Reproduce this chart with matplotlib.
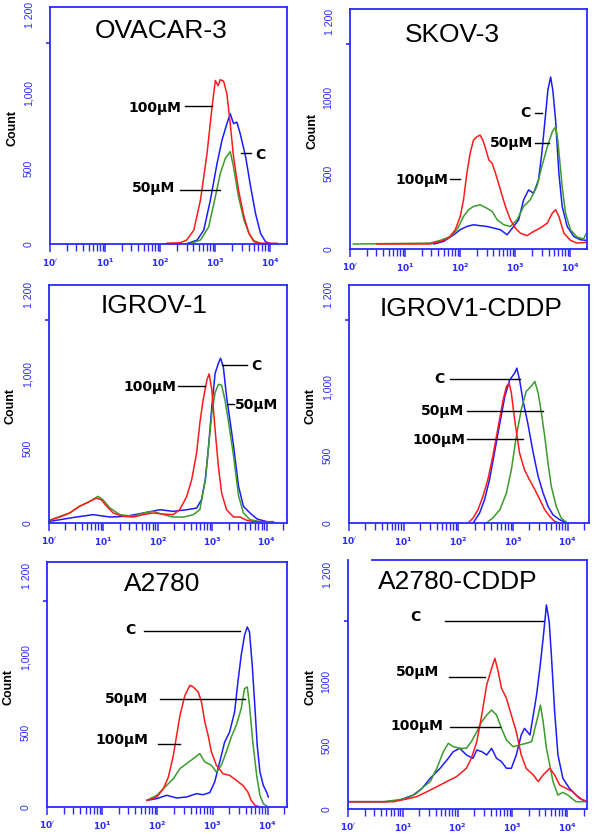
import matplotlib
matplotlib.use('Agg')
import numpy as np
import matplotlib.pyplot as plt
from matplotlib.ticker import FixedLocator, FixedFormatter, NullFormatter

plt.rcParams['font.family'] = ['Liberation Sans', 'DejaVu Sans']

# colours of the three treatments
RED = '#ff1a1a'     # 100µM
GREEN = '#3b9b2b'   # 50µM
BLUE = '#1c1cff'    # control (C)
AXIS = '#2a2aff'

titles = ['OVACAR-3', 'SKOV-3', 'IGROV-1', 'IGROV1-CDDP', 'A2780', 'A2780-CDDP']
ytick_text = [['0', '500', '1,000'], ['0', '500', '1000'], ['0', '500', '1,000'],
              ['0', '500', '1,000'], ['0', '500', '1,000'], ['0', '500', '1000']]
xtick_text = [r'$\mathbf{10^{\prime}}$', r'$\mathbf{10^{1}}$', r'$\mathbf{10^{2}}$',
              r'$\mathbf{10^{3}}$', r'$\mathbf{10^{4}}$']

# ---- OVACAR-3 (x = log10 fluorescence, y = count)
ovacar_red_x = [2.12, 2.36, 2.48, 2.61, 2.73, 2.85, 2.94, 3.00, 3.05, 3.09, 3.15, 3.21, 3.27, 3.33, 3.42, 3.52, 3.61, 3.70, 3.82, 4.12]
ovacar_red_y = [5, 8, 26, 92, 290, 600, 905, 1080, 1045, 1085, 1075, 990, 795, 575, 356, 180, 70, 15, 5, 5]
ovacar_green_x = [2.55, 2.73, 2.88, 3.00, 3.09, 3.18, 3.27, 3.33, 3.42, 3.52, 3.61, 3.70, 3.82]
ovacar_green_y = [4, 26, 114, 312, 466, 565, 610, 510, 312, 158, 70, 22, 4]
ovacar_blue_x = [2.48, 2.67, 2.79, 2.91, 3.03, 3.12, 3.21, 3.27, 3.33, 3.39, 3.45, 3.55, 3.64, 3.73, 3.82, 3.91, 4.00]
ovacar_blue_y = [2, 26, 92, 290, 530, 685, 795, 860, 795, 805, 730, 575, 378, 200, 70, 15, 2]

# ---- SKOV-3
skov_red_x = [0.48, 1.45, 1.64, 1.79, 1.91, 2.00, 2.06, 2.12, 2.18, 2.24, 2.30, 2.36, 2.41, 2.45, 2.52, 2.58, 2.64, 2.73, 2.82, 2.91, 3.00, 3.09, 3.21, 3.33, 3.45, 3.58, 3.67, 3.73, 3.79, 3.88, 4.00, 4.12, 4.29]
skov_red_y = [33, 33, 50, 72, 127, 215, 325, 500, 632, 719, 741, 752, 719, 675, 588, 566, 500, 390, 281, 193, 138, 105, 88, 116, 138, 171, 237, 259, 215, 105, 57, 39, 44]
skov_green_x = [0.06, 1.45, 1.64, 1.82, 1.94, 2.06, 2.15, 2.24, 2.36, 2.48, 2.58, 2.67, 2.79, 2.91, 3.03, 3.15, 3.27, 3.39, 3.48, 3.58, 3.67, 3.73, 3.77, 3.85, 3.91, 4.00, 4.12, 4.24, 4.29]
skov_green_y = [33, 39, 57, 83, 127, 215, 259, 281, 292, 270, 248, 193, 160, 149, 193, 281, 325, 412, 544, 675, 774, 807, 719, 412, 237, 127, 79, 66, 105]
skov_blue_x = [1.52, 1.70, 1.88, 2.00, 2.12, 2.24, 2.36, 2.48, 2.61, 2.73, 2.85, 2.97, 3.06, 3.15, 3.24, 3.33, 3.42, 3.48, 3.55, 3.59, 3.64, 3.68, 3.73, 3.79, 3.85, 3.94, 4.06, 4.18, 4.29]
skov_blue_y = [33, 50, 94, 127, 149, 160, 154, 149, 138, 127, 94, 149, 193, 325, 390, 368, 456, 632, 895, 1048, 1136, 1048, 851, 500, 281, 149, 83, 61, 57]

# ---- IGROV-1
igrov_red_x = [0.01, 0.20, 0.38, 0.56, 0.75, 0.87, 0.96, 1.06, 1.18, 1.36, 1.55, 1.73, 1.91, 2.10, 2.28, 2.40, 2.53, 2.62, 2.71, 2.77, 2.83, 2.90, 2.94, 2.99, 3.05, 3.11, 3.17, 3.26, 3.39, 3.51, 3.63, 3.75, 4.12]
igrov_red_y = [18, 40, 67, 112, 145, 167, 156, 112, 67, 45, 40, 56, 67, 60, 56, 89, 179, 290, 469, 670, 826, 960, 1000, 893, 625, 379, 201, 89, 40, 40, 18, 9, 9]
igrov_green_x = [0.01, 0.20, 0.38, 0.56, 0.75, 0.90, 0.99, 1.12, 1.30, 1.55, 1.73, 1.91, 2.10, 2.28, 2.47, 2.65, 2.77, 2.87, 2.93, 2.99, 3.05, 3.11, 3.17, 3.23, 3.29, 3.39, 3.48, 3.57, 3.69, 3.88]
igrov_green_y = [18, 45, 67, 112, 145, 179, 156, 100, 56, 45, 67, 78, 56, 40, 40, 56, 89, 290, 513, 737, 875, 930, 924, 826, 692, 446, 183, 67, 22, 9]
igrov_blue_x = [0.01, 0.20, 0.50, 0.81, 1.12, 1.42, 1.73, 2.04, 2.28, 2.53, 2.71, 2.80, 2.87, 2.93, 2.99, 3.05, 3.11, 3.15, 3.20, 3.26, 3.33, 3.39, 3.48, 3.57, 3.69, 3.82, 4.00]
igrov_blue_y = [11, 22, 40, 56, 40, 45, 67, 89, 78, 89, 100, 156, 290, 513, 781, 1004, 1071, 1105, 1049, 848, 670, 513, 246, 112, 67, 27, 9]

# ---- IGROV1-CDDP
igcddp_red_x = [2.18, 2.27, 2.36, 2.45, 2.54, 2.63, 2.73, 2.82, 2.88, 2.93, 2.97, 3.03, 3.12, 3.21, 3.30, 3.40, 3.49, 3.58, 3.67, 3.76, 3.85]
igcddp_red_y = [0, 37, 98, 196, 319, 490, 711, 907, 1005, 1029, 956, 760, 515, 392, 319, 245, 172, 98, 49, 12, 0]
igcddp_green_x = [2.51, 2.63, 2.76, 2.88, 2.97, 3.06, 3.15, 3.24, 3.34, 3.40, 3.46, 3.52, 3.58, 3.64, 3.70, 3.79, 3.88, 3.98]
igcddp_green_y = [0, 37, 98, 221, 392, 637, 833, 968, 1010, 1042, 956, 809, 637, 441, 270, 123, 37, 5]
igcddp_blue_x = [2.27, 2.39, 2.48, 2.57, 2.66, 2.76, 2.85, 2.94, 3.03, 3.07, 3.12, 3.18, 3.27, 3.37, 3.46, 3.55, 3.64, 3.73, 3.85, 3.98]
igcddp_blue_y = [0, 74, 172, 319, 515, 735, 931, 1054, 1103, 1140, 1054, 907, 735, 515, 343, 221, 123, 61, 25, 0]

# ---- A2780
a2780_red_x = [1.81, 1.99, 2.11, 2.20, 2.29, 2.35, 2.41, 2.50, 2.59, 2.65, 2.74, 2.80, 2.86, 2.92, 2.98, 3.07, 3.19, 3.31, 3.43, 3.55, 3.64, 3.70, 3.77, 3.86]
a2780_red_y = [44, 67, 122, 200, 344, 478, 611, 744, 811, 800, 767, 700, 567, 478, 367, 278, 222, 211, 178, 144, 100, 44, 11, 0]
a2780_green_x = [1.81, 1.99, 2.17, 2.29, 2.41, 2.53, 2.65, 2.77, 2.86, 2.98, 3.07, 3.16, 3.25, 3.34, 3.43, 3.52, 3.58, 3.63, 3.67, 3.73, 3.80, 3.86, 3.92, 3.98]
a2780_green_y = [44, 78, 144, 189, 256, 289, 322, 356, 300, 278, 233, 278, 367, 467, 544, 656, 789, 800, 678, 433, 211, 78, 22, 7]
a2780_blue_x = [1.81, 1.99, 2.17, 2.35, 2.53, 2.71, 2.83, 2.95, 3.04, 3.13, 3.22, 3.31, 3.40, 3.46, 3.52, 3.58, 3.63, 3.67, 3.72, 3.77, 3.81, 3.86, 3.92, 3.98, 4.01]
a2780_blue_y = [44, 56, 78, 60, 67, 89, 82, 96, 167, 300, 433, 500, 633, 833, 1011, 1144, 1200, 1167, 944, 656, 411, 233, 144, 100, 67]

# ---- A2780-CDDP
a2cddp_red_x = [0.00, 0.83, 1.07, 1.25, 1.44, 1.62, 1.80, 1.98, 2.16, 2.25, 2.35, 2.44, 2.53, 2.62, 2.68, 2.74, 2.80, 2.89, 2.98, 3.07, 3.16, 3.25, 3.38, 3.47, 3.56, 3.68, 3.77, 3.86, 3.98, 4.10, 4.22, 4.35]
a2cddp_red_y = [57, 57, 78, 96, 135, 174, 214, 253, 318, 396, 526, 734, 969, 1099, 1177, 1073, 943, 865, 734, 604, 422, 318, 266, 214, 266, 318, 266, 188, 161, 135, 83, 62]
a2cddp_green_x = [0.00, 0.65, 0.89, 1.07, 1.25, 1.38, 1.50, 1.62, 1.74, 1.83, 1.92, 2.04, 2.16, 2.25, 2.35, 2.44, 2.53, 2.62, 2.71, 2.80, 2.89, 3.01, 3.13, 3.25, 3.35, 3.41, 3.47, 3.51, 3.56, 3.62, 3.68, 3.74, 3.83, 3.92, 4.01, 4.16, 4.35]
a2cddp_green_y = [57, 57, 70, 83, 122, 174, 214, 318, 448, 513, 487, 474, 474, 526, 604, 682, 734, 773, 734, 630, 539, 487, 500, 513, 526, 630, 734, 812, 682, 474, 344, 214, 109, 130, 109, 57, 57]
a2cddp_blue_x = [0.00, 0.71, 0.95, 1.19, 1.35, 1.50, 1.68, 1.83, 1.92, 2.04, 2.16, 2.28, 2.35, 2.44, 2.53, 2.62, 2.71, 2.80, 2.89, 2.98, 3.07, 3.16, 3.22, 3.32, 3.38, 3.44, 3.50, 3.56, 3.62, 3.67, 3.71, 3.77, 3.83, 3.92, 4.04, 4.16, 4.28, 4.35]
a2cddp_blue_y = [57, 57, 70, 109, 161, 240, 318, 396, 448, 474, 422, 396, 461, 448, 422, 474, 396, 370, 318, 318, 422, 578, 630, 578, 734, 891, 1099, 1333, 1594, 1464, 1203, 760, 422, 240, 161, 109, 70, 57]

panel_curves = [
    [(ovacar_blue_x, ovacar_blue_y, BLUE), (ovacar_green_x, ovacar_green_y, GREEN), (ovacar_red_x, ovacar_red_y, RED)],
    [(skov_blue_x, skov_blue_y, BLUE), (skov_green_x, skov_green_y, GREEN), (skov_red_x, skov_red_y, RED)],
    [(igrov_blue_x, igrov_blue_y, BLUE), (igrov_green_x, igrov_green_y, GREEN), (igrov_red_x, igrov_red_y, RED)],
    [(igcddp_blue_x, igcddp_blue_y, BLUE), (igcddp_green_x, igcddp_green_y, GREEN), (igcddp_red_x, igcddp_red_y, RED)],
    [(a2780_blue_x, a2780_blue_y, BLUE), (a2780_green_x, a2780_green_y, GREEN), (a2780_red_x, a2780_red_y, RED)],
    [(a2cddp_blue_x, a2cddp_blue_y, BLUE), (a2cddp_green_x, a2cddp_green_y, GREEN), (a2cddp_red_x, a2cddp_red_y, RED)],
]

# axes boxes in pixels: left, right, top, bottom
boxes = [(50, 287, 7, 244), (350, 587, 9, 249), (49, 287, 285, 523),
         (349, 589, 285, 523), (47, 287, 562, 807), (348, 587, 560, 809)]
xmax_log = [4.30, 4.30, 4.37, 4.39, 4.35, 4.36]
ymax = [1565, 1585, 1596, 1752, 1633, 1945]
title_pos = [(0.47, 0.90), (0.43, 0.89), (0.44, 0.91), (0.51, 0.90), (0.48, 0.91), (0.46, 0.91)]
label1200_frac = [0.965, 0.945, 0.96, 0.96, 0.945, 0.94]
dash1200_frac = [0.85, 0.855, 0.855, 0.855, 0.84, 0.755]

# annotations: (text, text x log, text y, ha, line x0 log, line x1 log, line y)
notes = [
    [('100µM', 2.39, 895, 'right', 2.45, 2.94, 910), ('C', 3.73, 587, 'left', 3.47, 3.64, 598),
     ('50µM', 2.27, 367, 'right', 2.36, 3.09, 356)],
    [('C', 3.28, 895, 'right', 3.36, 3.48, 895), ('50µM', 3.33, 697, 'right', 3.36, 3.61, 700),
     ('100µM', 1.78, 456, 'right', 1.82, 2.00, 462)],
    [('C', 3.72, 1054, 'left', 3.17, 3.63, 1060), ('100µM', 2.33, 911, 'right', 2.37, 2.87, 920),
     ('50µM', 3.42, 792, 'left', 3.26, 3.39, 800)],
    [('C', 1.75, 1059, 'right', 1.84, 3.13, 1061), ('50µM', 2.10, 821, 'right', 2.15, 3.55, 821),
     ('100µM', 2.12, 613, 'right', 2.15, 3.18, 618)],
    [('C', 1.60, 1178, 'right', 1.75, 3.49, 1171), ('50µM', 1.84, 722, 'right', 2.05, 3.58, 722),
     ('100µM', 1.84, 444, 'right', 2.02, 2.41, 422)],
    [('C', 1.32, 1503, 'right', 1.77, 3.56, 1471), ('50µM', 1.67, 1073, 'right', 1.85, 2.50, 1034),
     ('100µM', 1.73, 651, 'right', 1.86, 2.77, 643)],
]

W, H = 600, 835
fig = plt.figure(figsize=(W / 100, H / 100), dpi=100)

for i in range(6):
    l, r, t, b = boxes[i]
    ax = fig.add_axes([l / W, 1 - b / H, (r - l) / W, (b - t) / H])
    for xs, ys, c in panel_curves[i]:
        ax.plot(10 ** np.array(xs), ys, color=c, lw=1.1)
    for txt, tx, ty, ha, x0, x1, ly in notes[i]:
        ax.text(10 ** tx, ty, txt, ha=ha, va='center', fontsize=10, fontweight='bold',
                family=['DejaVu Sans'])
        ax.plot([10 ** x0, 10 ** x1], [ly, ly], color='black', lw=1)

    ax.set_xscale('log')
    ax.set_xlim(1, 10 ** xmax_log[i])
    ax.set_ylim(0, ymax[i])

    ax.xaxis.set_major_locator(FixedLocator([1, 10, 100, 1000, 10000]))
    ax.xaxis.set_major_formatter(FixedFormatter(xtick_text))
    minors = [m * 10 ** d for d in range(5) for m in range(2, 10) if m * 10 ** d < 10 ** xmax_log[i]]
    ax.xaxis.set_minor_locator(FixedLocator(minors))
    ax.xaxis.set_minor_formatter(NullFormatter())
    ax.tick_params(axis='x', which='major', direction='out', length=6, width=1.1,
                   color=AXIS, labelcolor=AXIS, labelsize=6.5, pad=3)
    ax.tick_params(axis='x', which='minor', direction='out', length=5, width=1,
                   color=AXIS)

    ax.set_yticks([0, 500, 1000])
    ax.set_yticklabels(ytick_text[i], rotation=90, va='center')
    ax.set_yticks([dash1200_frac[i] * ymax[i]], minor=True)
    ax.tick_params(axis='y', which='major', length=0, labelcolor=AXIS, labelsize=7.5, pad=12)
    ax.tick_params(axis='y', which='minor', direction='out', length=3, width=1.2,
                   color=AXIS, pad=10)
    ax.text(-0.085, label1200_frac[i], '1 200', transform=ax.transAxes, rotation=90,
            ha='center', va='center', color=AXIS, fontsize=7.5)

    for s in ax.spines.values():
        s.set_color(AXIS)
        s.set_linewidth(1.3)
    if i == 5:
        ax.spines['top'].set_bounds(10 ** 0.44, 10 ** xmax_log[i])

    ax.set_ylabel('Count', fontsize=9, fontweight='bold')
    ax.yaxis.set_label_coords(-32 / (r - l), 0.49)

    tx, ty = title_pos[i]
    ax.text(tx, ty, titles[i], transform=ax.transAxes, ha='center', va='center',
            fontsize=19)

fig.savefig('out.png', dpi=100)
